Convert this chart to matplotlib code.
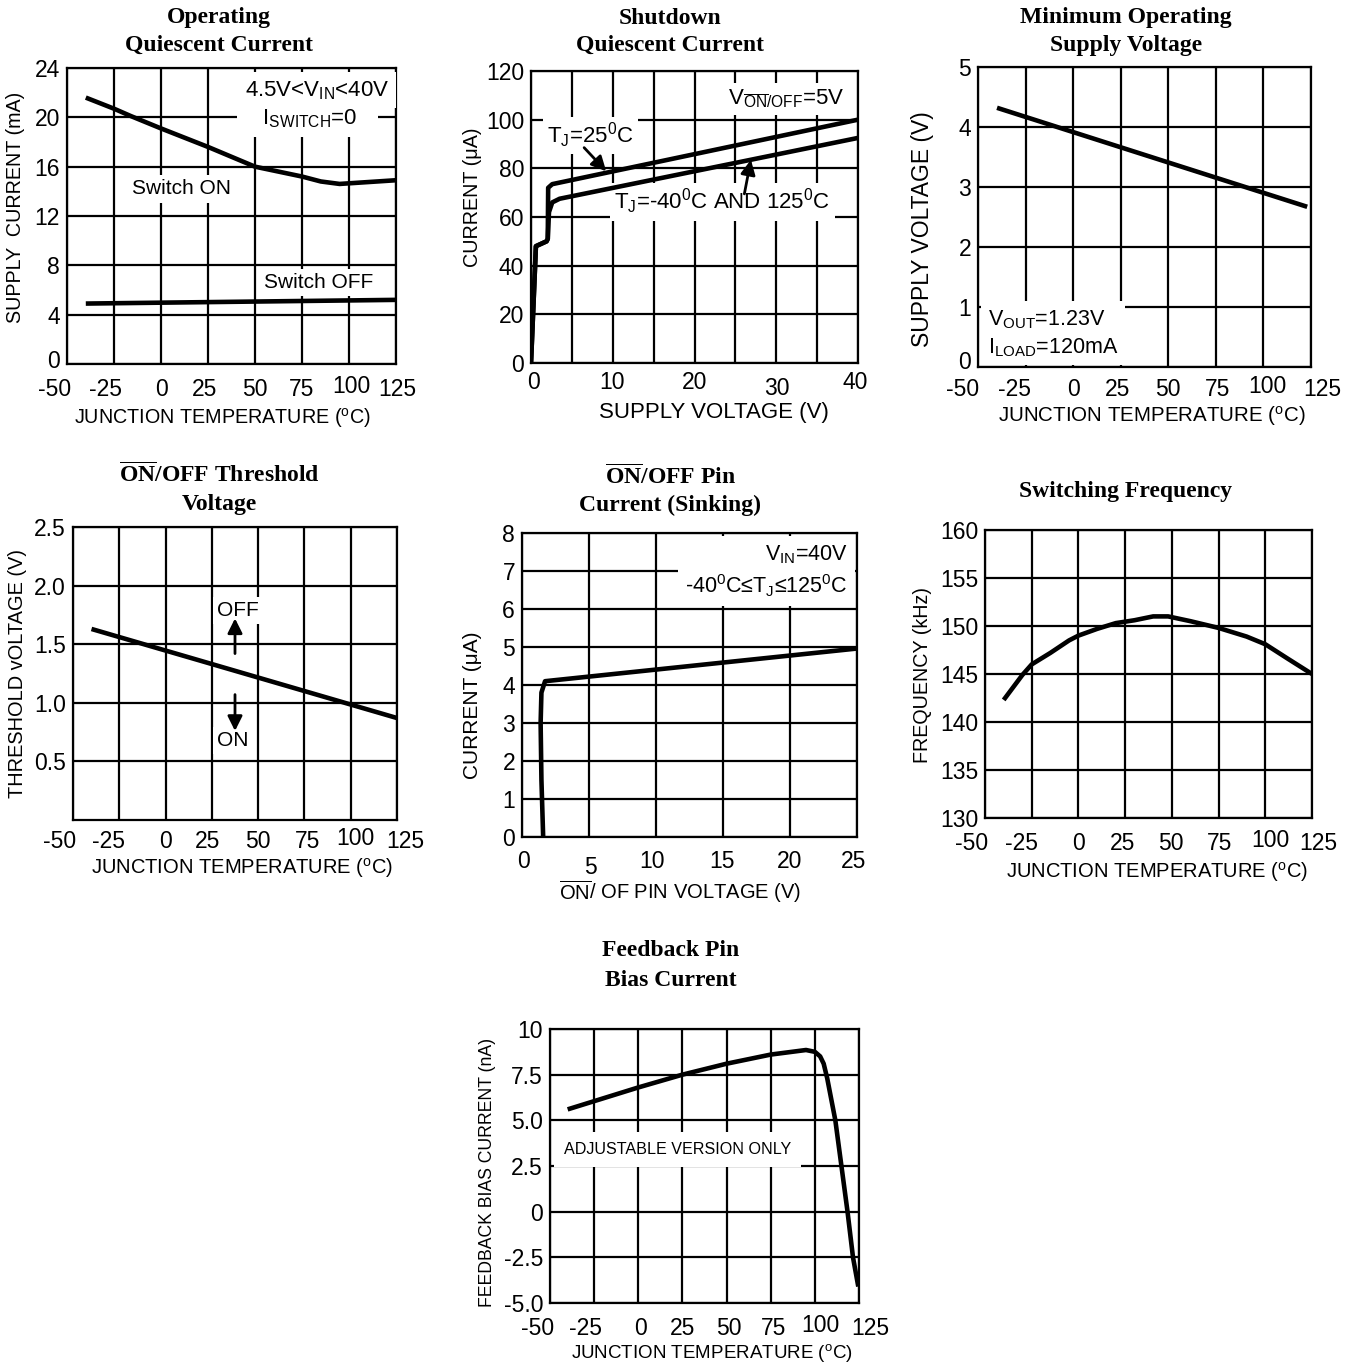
import numpy as np
import matplotlib
matplotlib.use("Agg")
import matplotlib.pyplot as plt
from matplotlib.transforms import ScaledTranslation

W, H = 1355, 1367

# ---- data ----
temp_ticks = [-50, -25, 0, 25, 50, 75, 100, 125]

# operating quiescent current (mA)
oq_temp_on = [-40, -25, -16, 0, 25, 50, 75, 85, 95, 105, 125]
oq_on = [21.6, 20.7, 20.1, 19.1, 17.6, 16.0, 15.2, 14.8, 14.6, 14.7, 14.9]
oq_temp_off = [-40, 125]
oq_off = [4.9, 5.2]

# shutdown quiescent current (uA)
sd_v_25 = [0, 0.6, 1.9, 2.05, 2.1, 2.6, 40]
sd_i_25 = [0, 48, 50, 51, 72, 73.5, 100]
sd_v_ext = [0, 0.6, 1.9, 2.05, 2.2, 2.6, 3.5, 40]
sd_i_ext = [0, 48, 50, 51, 62, 66, 67.5, 92.5]

# minimum operating supply voltage (V)
mv_temp = [-40, 123]
mv_volt = [4.32, 2.67]

# ON/OFF threshold voltage (V)
th_temp = [-40, 125]
th_volt = [1.63, 0.87]

# ON/OFF pin current (uA)
pin_v = [1.58, 1.45, 1.39, 1.45, 1.72, 25]
pin_i = [0, 1.5, 3.0, 3.8, 4.1, 4.96]

# switching frequency (kHz)
sf_temp = [-40, -30, -25, -15, -5, 0, 10, 20, 30, 40, 48, 60, 75, 90, 100, 112, 125]
sf_freq = [142.3, 144.9, 146.0, 147.2, 148.5, 149.0, 149.7, 150.3, 150.6, 151.0,
           151.0, 150.5, 149.8, 148.9, 148.1, 146.6, 145.0]

# feedback pin bias current (nA)
fb_temp = [-40, 0, 25, 50, 75, 95, 100, 103, 105, 107, 111.6, 118.5, 121.6, 124.6]
fb_bias = [5.6, 6.8, 7.5, 8.1, 8.6, 8.85, 8.75, 8.5, 8.1, 7.3, 5.0, 0.0, -2.5, -4.1]

plt.rcParams["font.family"] = ["Liberation Sans", "DejaVu Sans"]
plt.rcParams["mathtext.default"] = "regular"
plt.rcParams["axes.unicode_minus"] = False

fig = plt.figure(figsize=(W / 100, H / 100), dpi=100)

SERIF = ["Liberation Serif", "DejaVu Serif"]
TEMP_DY = [0, 0, 0, 0, 0, 0, -3, 0]
GRID_LW = 1.6
CURVE_LW = 3.3
TICK_FS = 16.5


def panel(box, xlim, ylim, xticks, yticks, xlabels=None, ylabels=None, xpad=8):
    l, t, r, b = box
    ax = fig.add_axes([l / W, 1 - b / H, (r - l) / W, (b - t) / H])
    ax.set_xlim(*xlim)
    ax.set_ylim(*ylim)
    ax.set_xticks(xticks)
    ax.set_yticks(yticks)
    if xlabels is not None:
        ax.set_xticklabels(xlabels)
    if ylabels is not None:
        ax.set_yticklabels(ylabels)
    ax.set_axisbelow(True)
    ax.grid(True, color="black", lw=GRID_LW)
    ax.tick_params(length=0, labelsize=TICK_FS)
    ax.tick_params(axis="x", pad=xpad)
    ax.tick_params(axis="y", pad=5)
    for s in ax.spines.values():
        s.set_linewidth(GRID_LW)
    return ax


def shift_xticks(ax, dxs, dys):
    for tick, dx, dy in zip(ax.xaxis.get_major_ticks(), dxs, dys):
        lab = tick.label1
        lab.set_transform(lab.get_transform() +
                          ScaledTranslation(dx / 100, -dy / 100, fig.dpi_scale_trans))


def shift_first_ytick(ax, dy):
    lab = ax.yaxis.get_major_ticks()[0].label1
    lab.set_transform(lab.get_transform() +
                      ScaledTranslation(0, dy / 100, fig.dpi_scale_trans))


def labels(ax, xtext, xpos, xfs, ytext, ypos, yfs):
    ax.set_xlabel(xtext, fontsize=xfs, va="center")
    ax.xaxis.set_label_coords(xpos[0] / W, 1 - xpos[1] / H, transform=fig.transFigure)
    ax.set_ylabel(ytext, fontsize=yfs, va="center")
    ax.yaxis.set_label_coords(ypos[0] / W, 1 - ypos[1] / H, transform=fig.transFigure)


def title(lines, x, ys):
    for txt, y in zip(lines, ys):
        fig.text(x / W, 1 - y / H, txt, family=SERIF, weight="bold", fontsize=17,
                 ha="center", va="center")


def curve(ax, x, y):
    ax.plot(x, y, color="black", lw=CURVE_LW, solid_joinstyle="round",
            solid_capstyle="butt", zorder=4)


white = dict(facecolor="white", edgecolor="none", pad=3)
arrow = dict(arrowstyle="-|>", color="black", lw=2, mutation_scale=22,
             shrinkA=0, shrinkB=0)

temp_label = "JUNCTION TEMPERATURE ($^o$C)"

# ---- 1: operating quiescent current ----
ax1 = panel((67, 68, 396, 364), (-50, 125), (0, 24), temp_ticks, range(0, 25, 4), xpad=10)
curve(ax1, oq_temp_on, oq_on)
curve(ax1, oq_temp_off, oq_off)
ax1.text(83, 22.2, "4.5V<$V_{IN}$<40V", fontsize=16, ha="center", va="center",
         bbox=dict(facecolor="white", edgecolor="none", pad=5))
ax1.text(78, 19.9, "   $I_{SWITCH}$=0   ", fontsize=16, ha="center", va="center",
         bbox=dict(facecolor="white", edgecolor="none", pad=5))
ax1.text(11, 14.2, "Switch ON", fontsize=15, ha="center", va="center", bbox=white)
ax1.text(84, 6.6, "Switch OFF", fontsize=15, ha="center", va="center", bbox=white)
labels(ax1, temp_label, (222, 418), 14.2, "SUPPLY  CURRENT (mA)", (16, 207), 14.2)
shift_xticks(ax1, [-12, -9, 0, -3, 0, 0, 2, 1], TEMP_DY)
shift_first_ytick(ax1, 5)
title(["Operating", "Quiescent Current"], 219, [18, 45])

# ---- 2: shutdown quiescent current ----
ax2 = panel((531, 71, 858, 363), (0, 40), (0, 120), range(0, 41, 5), range(0, 121, 20),
            xlabels=["0", "", "10", "", "20", "", "30", "", "40"], xpad=6)
curve(ax2, sd_v_25, sd_i_25)
curve(ax2, sd_v_ext, sd_i_ext)
ax2.text(38.4, 108.5, r"$V_{\overline{ON}/OFF}$=5V", fontsize=16, ha="right", va="center",
         bbox=white)
ax2.text(2.0, 93.5, "$T_J$=25$^0$C", fontsize=16, ha="left", va="center", bbox=white)
ax2.text(23.4, 66.3, "$T_J$=-40$^0$C AND 125$^0$C", fontsize=16, ha="center", va="center",
         bbox=white)
ax2.annotate("", xy=(9.2, 78.8), xytext=(6.5, 88.5), arrowprops=arrow, zorder=5)
ax2.annotate("", xy=(26.9, 83.5), xytext=(26.1, 69.5), arrowprops=arrow, zorder=5)
labels(ax2, "SUPPLY VOLTAGE (V)", (714, 413), 16, "CURRENT (μA)", (472, 197), 14.2)
shift_xticks(ax2, [2, 0, -1, 0, 0, 0, 1, 0, -3], [0, 0, 0, 0, 0, 0, 6, 0, 0])
title(["Shutdown", "Quiescent Current"], 670, [18, 45])

# ---- 3: minimum operating supply voltage ----
ax3 = panel((978, 67, 1311, 367), (-50, 125), (0, 5), temp_ticks, range(0, 6), xpad=8)
curve(ax3, mv_temp, mv_volt)
ax3.text(-45, 0.56, "$V_{OUT}$=1.23V\n$I_{LOAD}$=120mA", fontsize=15.5, ha="left",
         va="center", linespacing=1.3, bbox=dict(facecolor="white", edgecolor="none", pad=5))
labels(ax3, temp_label, (1152, 416), 14.8, "SUPPLY VOLTAGE (V)", (923, 229), 16.5)
shift_xticks(ax3, [-15, -11, 0, -3, 0, 2, 4, 11], TEMP_DY)
shift_first_ytick(ax3, 7)
title(["Minimum Operating", "Supply Voltage"], 1126, [18, 45])

# ---- 4: ON/OFF threshold voltage ----
ax4 = panel((73, 527, 397, 820), (-50, 125), (0, 2.5), temp_ticks, [0.5, 1.0, 1.5, 2.0, 2.5],
            xpad=7)
curve(ax4, th_temp, th_volt)
ax4.text(39, 1.79, "OFF", fontsize=15, ha="center", va="center", bbox=white)
ax4.text(36.3, 0.68, "ON", fontsize=15, ha="center", va="center", bbox=white)
ax4.annotate("", xy=(37.5, 1.72), xytext=(37.5, 1.42), arrowprops=arrow, zorder=5)
ax4.annotate("", xy=(37.5, 0.76), xytext=(37.5, 1.07), arrowprops=arrow, zorder=5)
labels(ax4, temp_label, (242, 868), 14.5, "THRESHOLD vOLTAGE (V)", (18, 674), 14.4)
shift_xticks(ax4, [-13, -11, 0, -4, 0, 3, 5, 8], TEMP_DY)
title([r"$\overline{ON}$/OFF Threshold", "Voltage"], 219, [475, 505])

# ---- 5: ON/OFF pin current ----
ax5 = panel((522, 533, 857, 837), (0, 25), (0, 8), range(0, 26, 5), range(0, 9), xpad=9)
curve(ax5, pin_v, pin_i)
ax5.text(24.3, 7.0, "$V_{IN}$=40V\n-40$^0$C≤$T_J$≤125$^0$C", fontsize=15.5, ha="right",
         va="center", multialignment="right", linespacing=1.3,
         bbox=dict(facecolor="white", edgecolor="none", pad=5))
labels(ax5, r"$\overline{ON}$/ OF PIN VOLTAGE (V)", (680, 892), 14.5, "CURRENT (μA)",
       (473, 705), 15)
shift_xticks(ax5, [2, 1, -4, -1, 0, -3], [0, 6, 0, 0, 0, 0])
title([r"$\overline{ON}$/OFF Pin", "Current (Sinking)"], 670, [477, 505])

# ---- 6: switching frequency ----
ax6 = panel((985, 530, 1312, 818), (-50, 125), (130, 160), temp_ticks, range(130, 161, 5),
            xpad=10)
curve(ax6, sf_temp, sf_freq)
labels(ax6, temp_label, (1157, 872), 14.5, "FREQUENCY (kHz)", (922, 675), 14.2)
shift_xticks(ax6, [-13, -10, 0, -3, -1, 1, 5, 6], TEMP_DY)
title(["Switching Frequency"], 1126, [491])

# ---- 7: feedback pin bias current ----
ax7 = panel((550, 1029, 859, 1303), (-50, 125), (-5, 10), temp_ticks,
            [-5, -2.5, 0, 2.5, 5, 7.5, 10],
            ylabels=["-5.0", "-2.5", "0", "2.5", "5.0", "7.5", "10"], xpad=10)
curve(ax7, fb_temp, fb_bias)
ax7.text(-42, 3.4, "ADJUSTABLE VERSION ONLY", fontsize=11.6, ha="left", va="center",
         bbox=dict(facecolor="white", edgecolor="none", pad=7))
labels(ax7, temp_label, (712, 1353), 13.5, "FEEDBACK BIAS CURRENT (nA)", (488, 1172), 12.7)
shift_xticks(ax7, [-12, -9, 2, 0, 2, 3, 6, 11], TEMP_DY)
title(["Feedback Pin", "Bias Current"], 671, [951, 980])

fig.savefig("out.png", dpi=100, facecolor="white")
